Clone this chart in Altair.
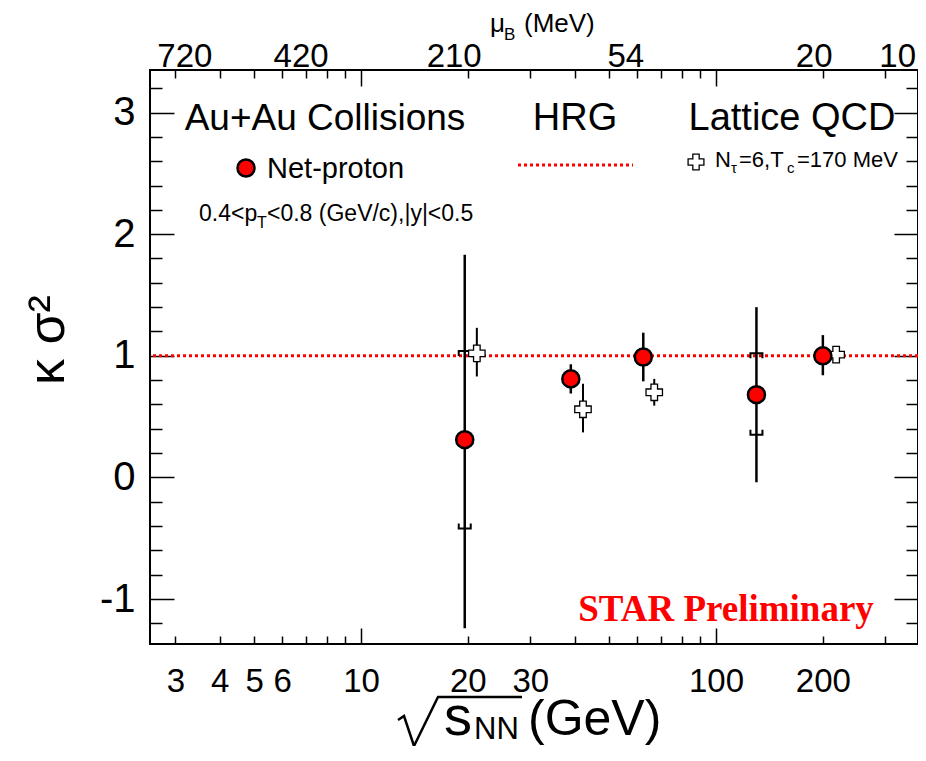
import altair as alt
import pandas as pd

# ---------------- data ----------------
np_energy = [19.6, 39.0, 62.4, 130.0, 200.0]
np_value = [0.31, 0.81, 0.99, 0.68, 1.00]
np_err_lo = [-1.24, 0.69, 0.79, -0.04, 0.84]
np_err_hi = [1.83, 0.93, 1.19, 1.40, 1.17]

sys_energy = [19.6, 130.0]
sys_hi = [1.04, 1.02]
sys_lo = [-0.42, 0.35]

lqcd_energy = [21.2, 42.2, 67.0, 218.0]
lqcd_value = [1.02, 0.56, 0.70, 1.01]
lqcd_err_lo = [0.83, 0.37, 0.59, 0.99]
lqcd_err_hi = [1.23, 0.77, 0.81, 1.03]

hrg_value = [1.0]

mu_b_labels = ["720", "420", "210", "54", "20", "10"]
mu_b_pos = [3.19, 6.78, 18.3, 55.7, 189.0, 325.0]

x_minor = [3, 4, 5, 6, 7, 8, 9, 20, 30, 40, 50, 60, 70, 80, 90, 200, 300]
x_major = [10, 100]
x_labeled = [3, 4, 5, 6, 10, 20, 30, 100, 200]
y_major = [-1, 0, 1, 2, 3]
y_minor = [-1.2, -0.8, -0.6, -0.4, -0.2, 0.2, 0.4, 0.6, 0.8, 1.2, 1.4, 1.6,
           1.8, 2.2, 2.4, 2.6, 2.8, 3.2]

# ---------------- layout ----------------
W, H = 768, 574
X0, Y0 = 150, 70
FONT = "Liberation Sans"

XS = alt.Scale(type="log", domain=[2.545, 370.7], nice=False)
YS = alt.Scale(domain=[-1.37, 3.35], nice=False, zero=False)

np_df = pd.DataFrame({"E": np_energy, "V": np_value, "lo": np_err_lo, "hi": np_err_hi})
sys_df = pd.DataFrame({"E": sys_energy, "hi": sys_hi, "lo": sys_lo})
lq_df = pd.DataFrame({"E": lqcd_energy, "V": lqcd_value, "lo": lqcd_err_lo, "hi": lqcd_err_hi})
hrg_df = pd.DataFrame({"V": hrg_value})
mu_df = pd.DataFrame({"E": mu_b_pos, "lab": mu_b_labels})

lab_list = "[" + ",".join(str(v) for v in x_labeled) + "]"
xlab_expr = f"indexof({lab_list}, datum.value) >= 0 ? toString(datum.value) : ''"

common_ax = dict(grid=False, domain=False, title=None, tickColor="black", tickWidth=1.5,
                 labelColor="black", labelFont=FONT, labelOverlap=False, labelFlush=False)

def xaxis(orient, vals, size, labels):
    kw = dict(common_ax)
    kw.update(orient=orient, values=vals, tickSize=size, offset=-size, labels=labels)
    if labels:
        kw.update(labelExpr=xlab_expr, labelFontSize=33, labelPadding=21)
    return alt.Axis(**kw)

def yaxis(orient, vals, size, labels):
    kw = dict(common_ax)
    kw.update(orient=orient, values=vals, tickSize=size, offset=-size, labels=labels)
    if labels:
        kw.update(labelExpr="toString(datum.value)", labelFontSize=40, labelPadding=15)
    return alt.Axis(**kw)

def carrier(xa, ya):
    return alt.Chart(np_df).mark_point(opacity=0).encode(
        x=alt.X("E:Q", scale=XS, axis=xa),
        y=alt.Y("V:Q", scale=YS, axis=ya),
    )

carriers = [
    carrier(xaxis("bottom", x_minor, 8, True), yaxis("left", y_minor, 12, False)),
    carrier(xaxis("bottom", x_major, 16, True), yaxis("left", y_major, 24, True)),
    carrier(xaxis("top", x_minor, 8, False), yaxis("right", y_minor, 12, False)),
    carrier(xaxis("top", x_major, 16, False), yaxis("right", y_major, 24, False)),
]

def T(px, py, s, size, font=FONT, align="left", baseline="alphabetic", color="black",
      weight="normal", angle=None):
    kw = dict(text=s, fontSize=size, font=font, align=align, baseline=baseline,
              color=color, fontWeight=weight)
    if angle is not None:
        kw["angle"] = angle
    return alt.Chart(pd.DataFrame({"t": [s]})).mark_text(**kw).encode(
        x=alt.value(px - X0), y=alt.value(py - Y0))

# HRG line
hrg = alt.Chart(hrg_df).mark_rule(color="#ff0000", strokeWidth=3, strokeDash=[3, 3]).encode(
    y=alt.Y("V:Q", scale=YS, axis=None))

np_err = alt.Chart(np_df).mark_rule(color="black", strokeWidth=2.5).encode(
    x=alt.X("E:Q", scale=XS, axis=None),
    y=alt.Y("lo:Q", scale=YS, axis=None), y2="hi:Q")

TOP_BR = "M -6 5 L -6 0 L 6 0 L 6 5"
BOT_BR = "M -6 -5 L -6 0 L 6 0 L 6 -5"
sys_top = alt.Chart(sys_df).mark_point(shape=TOP_BR, size=4, filled=False, color="black",
                                       strokeWidth=2, opacity=1).encode(
    x=alt.X("E:Q", scale=XS, axis=None), y=alt.Y("hi:Q", scale=YS, axis=None))
sys_bot = alt.Chart(sys_df).mark_point(shape=BOT_BR, size=4, filled=False, color="black",
                                       strokeWidth=2, opacity=1).encode(
    x=alt.X("E:Q", scale=XS, axis=None), y=alt.Y("lo:Q", scale=YS, axis=None))

lq_err = alt.Chart(lq_df).mark_rule(color="black", strokeWidth=2).encode(
    x=alt.X("E:Q", scale=XS, axis=None),
    y=alt.Y("lo:Q", scale=YS, axis=None), y2="hi:Q")

lq_pts = alt.Chart(lq_df).mark_point(shape="cross", size=270, filled=True, fill="white",
                                     stroke="black", strokeWidth=1.3, opacity=1).encode(
    x=alt.X("E:Q", scale=XS, axis=None), y=alt.Y("V:Q", scale=YS, axis=None))

np_pts = alt.Chart(np_df).mark_point(shape="circle", size=290, filled=True, fill="#ff0000",
                                     stroke="black", strokeWidth=2.5, opacity=1).encode(
    x=alt.X("E:Q", scale=XS, axis=None), y=alt.Y("V:Q", scale=YS, axis=None))

# top mu_B labels (placed on the sqrt(s) scale)
mu_lab = alt.Chart(mu_df).mark_text(fontSize=33, font=FONT, align="center",
                                    baseline="alphabetic", color="black").encode(
    x=alt.X("E:Q", scale=XS, axis=None), y=alt.value(67 - Y0), text="lab:N")

# legend symbols
leg_circle = alt.Chart(pd.DataFrame({"a": [0]})).mark_point(
    shape="circle", size=290, filled=True, fill="#ff0000", stroke="black",
    strokeWidth=2.5, opacity=1).encode(x=alt.value(246 - X0), y=alt.value(168 - Y0))
leg_cross = alt.Chart(pd.DataFrame({"a": [0]})).mark_point(
    shape="cross", size=250, filled=True, fill="white", stroke="black",
    strokeWidth=1.3, opacity=1).encode(x=alt.value(696 - X0), y=alt.value(162 - Y0))
leg_line = alt.Chart(pd.DataFrame({"a": [0]})).mark_rule(
    color="#ff0000", strokeWidth=3, strokeDash=[3, 3]).encode(
    x=alt.value(518 - X0), x2=alt.value(633 - X0), y=alt.value(165 - Y0))

# sqrt sign for the x title
RADICAL = "M -62 -2 L -56 -6 L -46 24 L -22 -25 L 62 -25"
radical = alt.Chart(pd.DataFrame({"a": [0]})).mark_point(
    shape=RADICAL, size=4, filled=False, color="black", strokeWidth=2.5, opacity=1).encode(
    x=alt.value(460 - X0), y=alt.value(722 - Y0))

texts = [
    T(325, 130, "Au+Au Collisions", 37, align="center"),
    T(575, 130, "HRG", 38, align="center"),
    T(792, 130, "Lattice QCD", 38, align="center"),
    T(267, 178, "Net-proton", 29),
    T(199, 221, "0.4<p", 23),
    T(257, 228, "T", 16),
    T(267, 221, "<0.8 (GeV/c),|y|<0.5", 23),
    T(715, 167, "N", 22),
    T(731, 173, "τ", 15),
    T(739, 167, "=6,T", 22),
    T(787, 173, "c", 15),
    T(797, 167, "=170 MeV", 22),
    T(726, 621, "STAR Preliminary", 37, font="Liberation Serif", align="center",
      color="#ff0000", weight="bold"),
    T(490, 32, "μ", 26),
    T(504, 40, "B", 17),
    T(524, 32, "(MeV)", 26),
    T(48, 340, "κ σ²", 52, align="center", baseline="middle", angle=270),
    T(444, 735, "s", 56),
    T(474, 739, "NN", 31),
    T(528, 735, "(GeV)", 50),
]

chart = alt.layer(
    *carriers, hrg, np_err, sys_top, sys_bot, lq_err, lq_pts, np_pts, mu_lab,
    leg_line, leg_cross, leg_circle, radical, *texts
).resolve_axis(x="independent", y="independent").properties(
    width=W, height=H,
    autosize=alt.AutoSizeParams(type="none"),
    padding={"left": 142, "top": 62, "right": 0, "bottom": 102},
).configure_view(stroke="black", strokeWidth=2)

chart.save("out.html", embed_options={"renderer": "svg", "actions": False})
